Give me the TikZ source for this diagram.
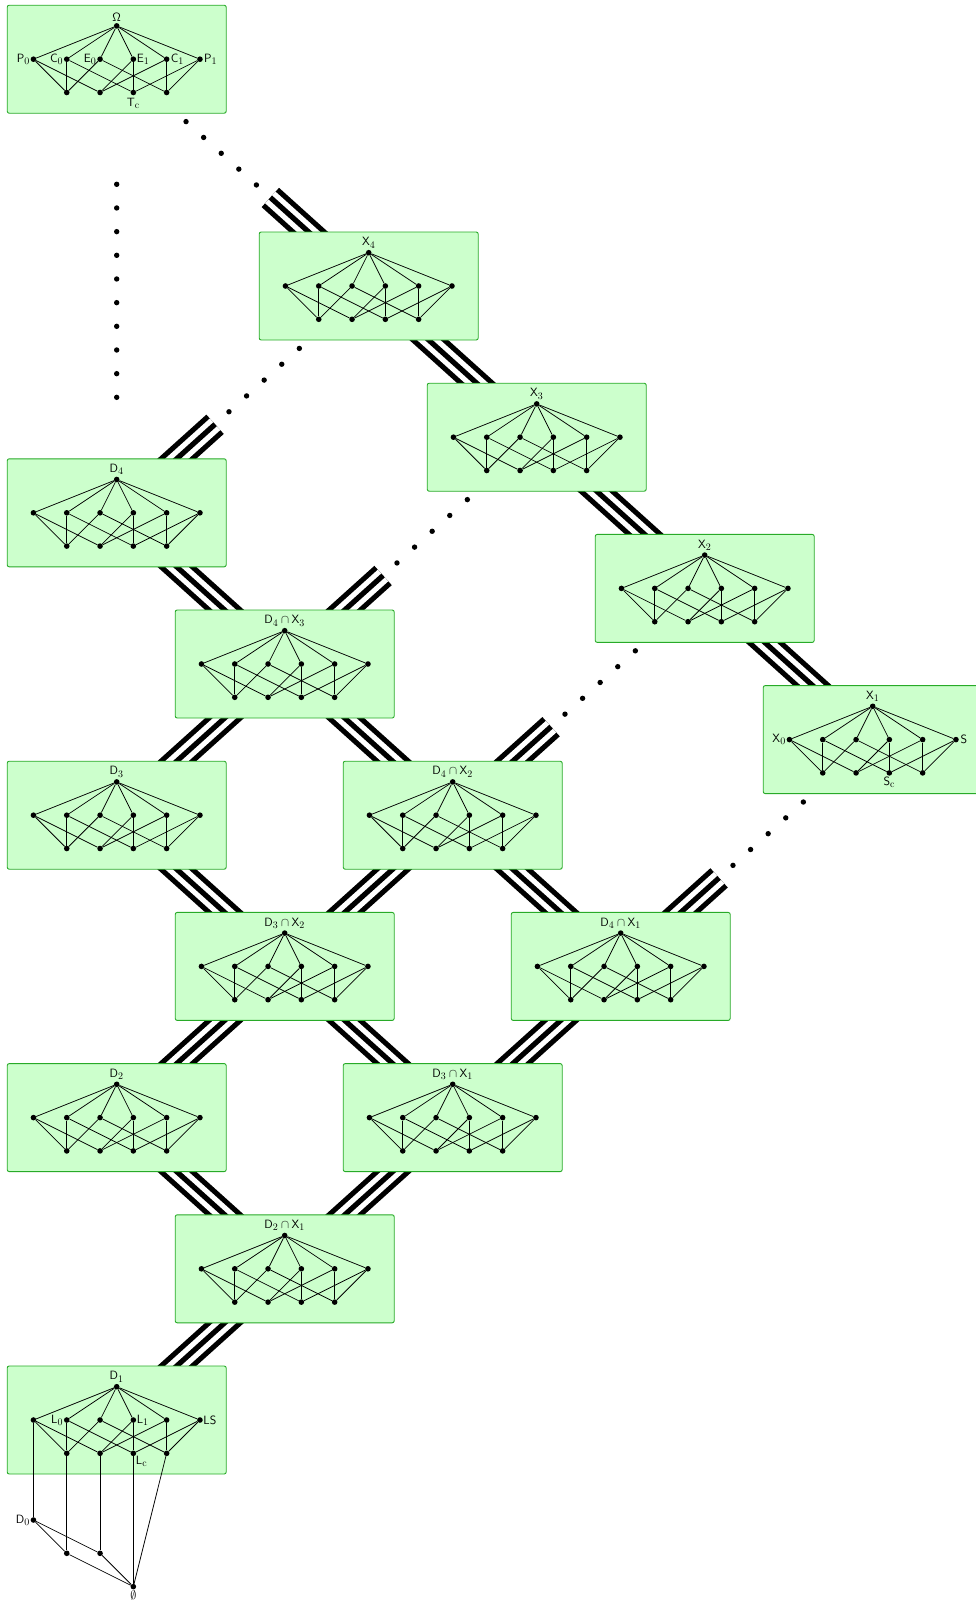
\documentclass[tikz,border=0pt]{standalone}
\usetikzlibrary{calc}
\DeclareMathSizes{13}{13}{10}{8}
\pgfdeclarelayer{background}
\pgfsetlayers{background,main}
\definecolor{boxfill}{RGB}{204,255,204}
\definecolor{boxline}{RGB}{40,170,40}
\tikzset{
 lbox/.style={draw=boxline, fill=boxfill, line width=0.9pt, rounded corners=2pt, minimum width=219pt, minimum height=108pt, inner sep=0pt},
 dotnode/.style={circle, fill=black, inner sep=0pt, minimum size=5.6pt},
 latline/.style={line width=0.75pt},
 tripleline/.style={line width=26pt, draw=black, postaction={draw=white, line width=15.6pt}, postaction={draw=black, line width=5.2pt}},
 lab/.style={inner sep=1pt, font=\fontsize{13}{15}\selectfont},
 ttl/.style={inner sep=1pt, label distance=0.5pt, font=\fontsize{13}{15}\selectfont},
}
\newcommand\latbox[4]{%
  \node[lbox] (#1) at (#2,#3) {};
  \node[dotnode, label={[ttl, name=#1-tl]above:{#4}}] (#1-t) at ($(#1.center)+(0,-33.3)$) {};
  \foreach \i/\dx in {1/-83.25,2/-49.95,3/-16.65,4/16.65,5/49.95,6/83.25}
    {\node[dotnode] (#1-m\i) at ($(#1.center)+(\dx,0)$) {};}
  \foreach \i/\dx in {1/-49.95,2/-16.65,3/16.65,4/49.95}
    {\node[dotnode] (#1-b\i) at ($(#1.center)+(\dx,33.3)$) {};}
  \foreach \i in {1,...,6} {\draw[latline] (#1-t) -- (#1-m\i);}
  \foreach \a/\b in {1/1,1/2,2/1,2/3,3/1,3/4,4/2,4/3,5/2,5/4,6/3,6/4}
    {\draw[latline] (#1-m\a) -- (#1-b\b);}
}
\begin{document}
\begin{tikzpicture}[x=1pt,y=-1pt]
\useasboundingbox (0,0) rectangle (976,1606);
% boxes
\latbox{Om}{116.7}{59.2}{$\mathsf{\Omega}$}
\latbox{X4}{368.7}{286}{$\mathsf{X}_4$}
\latbox{X3}{536.7}{437.2}{$\mathsf{X}_3$}
\latbox{X2}{704.7}{588.4}{$\mathsf{X}_2$}
\latbox{X1}{872.7}{739.6}{$\mathsf{X}_1$}
\latbox{D4}{116.7}{512.8}{$\mathsf{D}_4$}
\latbox{D4X3}{284.7}{664}{$\mathsf{D}_4\cap\mathsf{X}_3$}
\latbox{D3}{116.7}{815.2}{$\mathsf{D}_3$}
\latbox{D4X2}{452.7}{815.2}{$\mathsf{D}_4\cap\mathsf{X}_2$}
\latbox{D3X2}{284.7}{966.4}{$\mathsf{D}_3\cap\mathsf{X}_2$}
\latbox{D4X1}{620.7}{966.4}{$\mathsf{D}_4\cap\mathsf{X}_1$}
\latbox{D2}{116.7}{1117.6}{$\mathsf{D}_2$}
\latbox{D3X1}{452.7}{1117.6}{$\mathsf{D}_3\cap\mathsf{X}_1$}
\latbox{D2X1}{284.7}{1268.8}{$\mathsf{D}_2\cap\mathsf{X}_1$}
\latbox{D1}{116.7}{1420}{$\mathsf{D}_1$}
% extra labels
\node[lab, anchor=east, inner sep=0.3pt] (lP0) at (Om-m1.west) {$\mathsf{P}_0$};
\node[lab, anchor=east, inner sep=0.5pt] (lC0) at (Om-m2.west) {$\mathsf{C}_0$};
\node[lab, anchor=east, inner sep=0.5pt] (lE0) at (Om-m3.west) {$\mathsf{E}_0$};
\node[lab, anchor=west, inner sep=0.3pt] (lE1) at (Om-m4.east) {$\mathsf{E}_1$};
\node[lab, anchor=west, inner sep=1pt] (lC1) at (Om-m5.east) {$\mathsf{C}_1$};
\node[lab, anchor=west, inner sep=1pt] (lP1) at (Om-m6.east) {$\mathsf{P}_1$};
\node[lab, anchor=north, inner sep=2.5pt] (lTc) at (Om-b3.south) {$\mathsf{T}_{\mathrm{c}}$};
\node[lab, anchor=east, inner sep=0.5pt] (lX0) at (X1-m1.west) {$\mathsf{X}_0$};
\node[lab, anchor=west, inner sep=1.5pt] (lS) at (X1-m6.east) {$\mathsf{S}$};
\node[lab, anchor=north, inner sep=1.5pt] (lSc) at (X1-b3.south) {$\mathsf{S}_{\mathrm{c}}$};
\node[lab, anchor=east, inner sep=0.5pt] (lL0) at (D1-m2.west) {$\mathsf{L}_0$};
\node[lab, anchor=west, inner sep=0.3pt] (lL1) at (D1-m4.east) {$\mathsf{L}_1$};
\node[lab, anchor=west, inner sep=0.3pt] (lLS) at (D1-m6.east) {$\mathsf{LS}$};
\node[lab, anchor=north west, inner sep=0.3pt] (lLc) at (D1-b3.south east) {$\mathsf{L}_{\mathrm{c}}$};
% bottom lattice
\node[dotnode] (D0) at ($(D1.center)+(-83.25,100)$) {};
\node[lab, anchor=east, inner sep=0.3pt] (lD0) at (D0.west) {$\mathsf{D}_0$};
\node[dotnode] (e1) at ($(D1.center)+(-49.95,133.3)$) {};
\node[dotnode] (e2) at ($(D1.center)+(-16.65,133.3)$) {};
\node[dotnode] (empty) at ($(D1.center)+(16.65,166.6)$) {};
\node[lab, anchor=north, inner sep=0.3pt] (lempty) at (empty.south) {$\emptyset$};
\foreach \a/\b in {D1-m1/D0, D1-b1/e1, D1-b2/e2, D1-b3/empty, D1-b4/empty, D0/e1, D0/e2, e1/empty, e2/empty}
  {\draw[latline] (\a) -- (\b);}
% connectors
\begin{pgfonlayer}{background}
\foreach \a/\b in {D4/D4X3, D4X3/D3, D4X3/D4X2, D3/D3X2, D4X2/D3X2, D4X2/D4X1, D3X2/D2, D3X2/D3X1, D4X1/D3X1, D2/D2X1, D3X1/D2X1, D2X1/D1, X4/X3, X3/X2, X2/X1}
  {\draw[tripleline] (\a.center) -- (\b.center);}
\foreach \a/\b in {Om/X4, X4/D4, X3/D4X3, X2/D4X2, X1/D4X1}{
  \draw[tripleline] ($(\a.center)!206.7pt!(\b.center)$) -- (\b.center);
  \foreach \k in {0,...,4}{
    \pgfmathsetmacro\dd{93.3+23.67*\k}
    \fill ($(\a.center)!\dd pt!(\b.center)$) circle (2.7pt);
  }
}
\foreach \k in {0,...,9}{
  \pgfmathsetmacro\dd{125.1+23.67*\k}
  \fill ($(Om.center)!\dd pt!(D4.center)$) circle (2.7pt);
}
\end{pgfonlayer}
\end{tikzpicture}
\end{document}
